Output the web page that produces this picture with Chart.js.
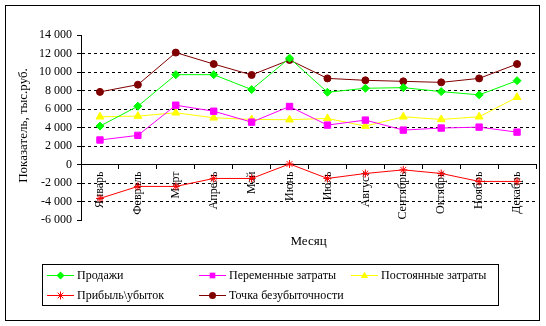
<!DOCTYPE html>
<html><head><meta charset="utf-8">
<script src="https://cdn.jsdelivr.net/npm/chart.js@4/dist/chart.umd.min.js"></script>
<style>html,body{margin:0;padding:0;background:#fff;}#wrap{width:546px;height:326px;}</style>
</head><body><div id="wrap"><canvas id="c" width="546" height="326"></canvas></div>
<script>
const months = ['Январь','Февраль','Март','Апрель','Май','Июнь','Июль','Август','Сентябрь','Октябрь','Ноябрь','Декабрь'];
const sales = [4150,6300,9710,9710,8100,11500,7810,8240,8310,7880,7530,9060];
const variableCosts = [2650,3150,6410,5760,4580,6270,4260,4800,3720,3940,4040,3500];
const fixedCosts = [5160,5230,5590,5050,4870,4840,4980,4150,5160,4870,5160,7270];
const profit = [-3670,-2370,-2370,-1510,-1510,60,-1510,-970,-580,-970,-1830,-1830];
const breakeven = [7850,8630,12100,10860,9680,11300,9310,9100,8990,8880,9310,10860];
const seriesNames = ['Продажи','Переменные затраты','Постоянные затраты','Прибыль\\убыток','Точка безубыточности'];
const yTitle = 'Показатель, тыс.руб.';
const xTitle = 'Месяц';

const FONT = '"Liberation Serif", "Times New Roman", serif';
function fmt(v){ const s = Math.abs(v).toString().replace(/\B(?=(\d{3})+(?!\d))/g,' '); return (v<0?'-':'')+s; }

function ds(label, data, color, style, radius){
  return {label, data, borderColor: color, backgroundColor: color, borderWidth: 1,
    pointStyle: style, pointRadius: radius, pointHoverRadius: radius, pointBorderWidth: 1,
    pointBorderColor: color, pointBackgroundColor: color, tension: 0, fill: false};
}

function drawMarker(ctx, style, x, y, r, color){
  ctx.save();
  ctx.fillStyle = color; ctx.strokeStyle = color; ctx.lineWidth = 1;
  ctx.beginPath();
  if (style === 'circle'){ ctx.arc(x,y,r,0,Math.PI*2); ctx.fill(); }
  else if (style === 'rect'){ const s = r*Math.SQRT1_2; ctx.rect(x-s,y-s,2*s,2*s); ctx.fill(); }
  else if (style === 'rectRot'){ ctx.moveTo(x,y-r); ctx.lineTo(x+r,y); ctx.lineTo(x,y+r); ctx.lineTo(x-r,y); ctx.closePath(); ctx.fill(); }
  else if (style === 'triangle'){ ctx.moveTo(x,y-r); ctx.lineTo(x+r*0.9,y+r*0.6); ctx.lineTo(x-r*0.9,y+r*0.6); ctx.closePath(); ctx.fill(); }
  else if (style === 'star'){ for(let i=0;i<4;i++){ const a=i*Math.PI/4; ctx.moveTo(x-Math.cos(a)*r,y-Math.sin(a)*r); ctx.lineTo(x+Math.cos(a)*r,y+Math.sin(a)*r);} ctx.stroke(); }
  ctx.restore();
}

const decor = {
  id: 'decor',
  beforeDraw(chart){
    const ctx = chart.ctx;
    ctx.save(); ctx.fillStyle = '#fff'; ctx.fillRect(0,0,chart.width,chart.height); ctx.restore();
  },
  afterDraw(chart){
    const ctx = chart.ctx, ca = chart.chartArea;
    ctx.save();
    // outer border
    ctx.strokeStyle = '#000'; ctx.lineWidth = 1;
    ctx.strokeRect(5.5,5.5,534,315);
    // axis titles
    ctx.fillStyle = '#000';
    ctx.font = '13px ' + FONT;
    ctx.textAlign = 'center'; ctx.textBaseline = 'middle';
    ctx.fillText(xTitle, (ca.left+ca.right)/2, 242);
    ctx.save(); ctx.translate(24, (ca.top+ca.bottom)/2 - 2); ctx.rotate(-Math.PI/2);
    ctx.fillText(yTitle, 0, 0); ctx.restore();
    // legend
    ctx.strokeRect(42.5,264.5,456,41);
    const pos = [[47,275],[199,275],[351,275],[47,295],[199,295]];
    ctx.font = '12px ' + FONT; ctx.textAlign = 'left'; ctx.textBaseline = 'middle';
    chart.data.datasets.forEach((d,i)=>{
      const [x,y] = pos[i];
      ctx.strokeStyle = d.borderColor; ctx.lineWidth = 1;
      ctx.beginPath(); ctx.moveTo(x, y+0.5); ctx.lineTo(x+27, y+0.5); ctx.stroke();
      drawMarker(ctx, d.pointStyle, x+13.5, y+0.5, Math.min(d.pointRadius,4), d.borderColor);
      ctx.fillStyle = '#000';
      ctx.fillText(d.label, x+30, y+1);
    });
    ctx.restore();
  }
};

new Chart(document.getElementById('c'), {
  type: 'line',
  data: {
    labels: months,
    datasets: [
      ds(seriesNames[0], sales, '#00FF00', 'rectRot', 4),
      ds(seriesNames[1], variableCosts, '#FF00FF', 'rect', 4.5),
      ds(seriesNames[2], fixedCosts, '#FFFF00', 'triangle', 4.5),
      ds(seriesNames[3], profit, '#FF0000', 'star', 4),
      ds(seriesNames[4], breakeven, '#800000', 'circle', 3.5)
    ]
  },
  options: {
    responsive: false, animation: false, devicePixelRatio: 1,
    layout: { padding: { left: 0, top: 35, right: 10, bottom: 106 } },
    plugins: { legend: { display: false }, tooltip: { enabled: false }, title: { display: false } },
    elements: { line: { borderWidth: 1 } },
    scales: {
      x: {
        type: 'category', offset: true, position: { y: 0 },
        grid: { display: true, drawOnChartArea: false, drawTicks: true, tickLength: 4, tickColor: '#000', offset: true, color: '#000' },
        border: { display: true, color: '#000', width: 1 },
        ticks: { autoSkip: false, maxRotation: 90, minRotation: 90, padding: 3, color: '#000', font: { family: FONT, size: 12 } }
      },
      y: {
        min: -6000, max: 14000,
        afterFit(scale){ scale.width = 81; },
        grid: {
          color: (c) => { const v = c.tick && c.tick.value; return (v === 0 || v === 14000 || v === -6000) ? 'rgba(0,0,0,0)' : '#000'; },
          lineWidth: 1, drawTicks: true, tickLength: 4, tickColor: '#000'
        },
        border: { display: true, color: '#000', width: 1, dash: [3,3] },
        ticks: { stepSize: 2000, padding: 5, color: '#000', font: { family: FONT, size: 12 }, callback: (v) => fmt(v) }
      }
    }
  },
  plugins: [decor]
});
</script>
</body></html>
